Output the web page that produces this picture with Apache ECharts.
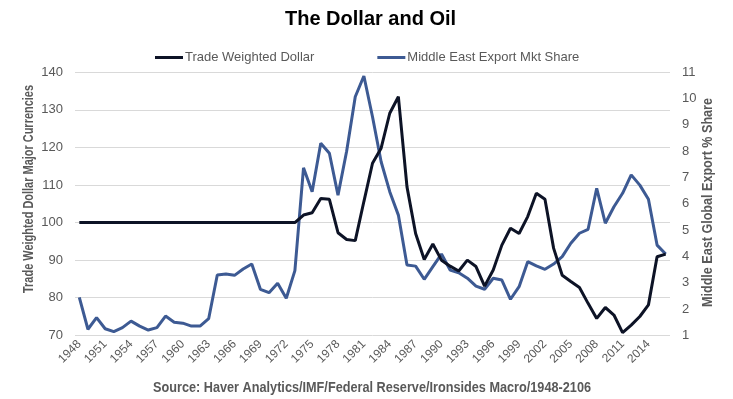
<!DOCTYPE html>
<html>
<head>
<meta charset="utf-8">
<script src="https://cdn.jsdelivr.net/npm/echarts@6/dist/echarts.min.js"></script>
<style>
html,body{margin:0;padding:0;background:#fff;}
#chart{width:733px;height:399px;}
</style>
</head>
<body>
<div id="chart"></div>
<script>
var years = ['1948','1949','1950','1951','1952','1953','1954','1955','1956','1957',
  '1958','1959','1960','1961','1962','1963','1964','1965','1966','1967',
  '1968','1969','1970','1971','1972','1973','1974','1975','1976','1977',
  '1978','1979','1980','1981','1982','1983','1984','1985','1986','1987',
  '1988','1989','1990','1991','1992','1993','1994','1995','1996','1997',
  '1998','1999','2000','2001','2002','2003','2004','2005','2006','2007',
  '2008','2009','2010','2011','2012','2013','2014','2015','2016'];

var tradeWeightedDollar = [100,100,100,100,100,100,100,100,100,100,
  100,100,100,100,100,100,100,100,100,100,
  100,100,100,100,100,100,102.0,102.6,106.4,106.2,
  97.3,95.5,95.2,105.6,115.8,119.8,129.1,133.5,109.5,97.1,
  90.2,94.3,90.0,88.4,87.1,90.0,88.3,83.1,87.4,94.0,
  98.5,97.1,101.6,107.8,106.2,93.2,86.0,84.3,82.7,78.5,
  74.5,77.4,75.4,70.7,72.7,75.0,78.1,90.9,91.6];

var middleEastShare = [2.44,1.23,1.67,1.25,1.14,1.29,1.54,1.35,1.20,1.29,
  1.73,1.50,1.46,1.35,1.35,1.63,3.29,3.33,3.28,3.52,
  3.71,2.75,2.62,2.98,2.41,3.46,7.37,6.46,8.30,7.92,
  6.33,8.00,10.07,10.86,9.31,7.60,6.46,5.57,3.67,3.63,
  3.13,3.61,4.09,3.48,3.38,3.17,2.87,2.75,3.17,3.10,
  2.37,2.85,3.80,3.64,3.51,3.71,3.99,4.50,4.88,5.03,
  6.59,5.26,5.89,6.40,7.10,6.71,6.17,4.43,4.09];

var titleText = 'The Dollar and Oil';
var seriesNames = ['Trade Weighted Dollar', 'Middle East Export Mkt Share'];
var leftAxisName = 'Trade Weighted Dollar Major Currencies';
var rightAxisName = 'Middle East Global Export % Share';
var sourceText = 'Source: Haver Analytics/IMF/Federal Reserve/Ironsides Macro/1948-2106';

var FONT = '"Liberation Sans", Arial, sans-serif';
var GRAY = '#595959';

var mctx = document.createElement('canvas').getContext('2d');
function fitScale(text, font, target) {
  mctx.font = font;
  return target / mctx.measureText(text).width;
}
var boldFont = 'bold 14px ' + FONT;

var chart = echarts.init(document.getElementById('chart'), null, {renderer: 'canvas'});
chart.setOption({
  backgroundColor: '#ffffff',
  animation: false,
  title: {
    text: titleText,
    left: 285, top: 9, padding: 0,
    textStyle: {fontFamily: FONT, fontSize: 20, fontWeight: 'bold', color: '#000000'}
  },
  legend: {
    left: 155, top: 51, padding: 0,
    icon: 'rect', itemWidth: 28, itemHeight: 3, itemGap: 63,
    data: seriesNames,
    textStyle: {fontFamily: FONT, fontSize: 13, color: GRAY, padding: [0,0,0,-3]}
  },
  grid: {left: 75, right: 63, top: 72.3, bottom: 63.7},
  xAxis: {
    type: 'category',
    data: years,
    boundaryGap: true,
    axisLine: {show: false},
    axisTick: {show: false},
    axisLabel: {interval: 2, rotate: 45, margin: 7, color: GRAY, fontFamily: FONT, fontSize: 12}
  },
  yAxis: [
    {
      type: 'value', min: 70, max: 140, interval: 10, position: 'left',
      axisLine: {show: false}, axisTick: {show: false},
      axisLabel: {margin: 12, color: GRAY, fontFamily: FONT, fontSize: 13},
      splitLine: {lineStyle: {color: '#D9D9D9', width: 1}}
    },
    {
      type: 'value', min: 1, max: 11, interval: 1, position: 'right',
      axisLine: {show: false}, axisTick: {show: false},
      axisLabel: {margin: 12, color: GRAY, fontFamily: FONT, fontSize: 13},
      splitLine: {show: false}
    }
  ],
  series: [
    {
      name: seriesNames[0], type: 'line', yAxisIndex: 0,
      data: tradeWeightedDollar, symbol: 'none',
      itemStyle: {color: '#0D1326'},
      lineStyle: {color: '#0D1326', width: 3}, z: 3
    },
    {
      name: seriesNames[1], type: 'line', yAxisIndex: 1,
      data: middleEastShare, symbol: 'none',
      itemStyle: {color: '#3D5A93'},
      lineStyle: {color: '#3D5A93', width: 3}, z: 2
    }
  ],
  graphic: [
    {
      type: 'text', x: 29, y: 189, rotation: Math.PI / 2,
      scaleX: fitScale(leftAxisName, boldFont, 208), scaleY: 1,
      style: {text: leftAxisName, font: boldFont, fill: GRAY, align: 'center', verticalAlign: 'middle'}
    },
    {
      type: 'text', x: 708, y: 202.5, rotation: Math.PI / 2,
      scaleX: fitScale(rightAxisName, boldFont, 209), scaleY: 1,
      style: {text: rightAxisName, font: boldFont, fill: GRAY, align: 'center', verticalAlign: 'middle'}
    },
    {
      type: 'text', x: 372, y: 388,
      scaleX: fitScale(sourceText, 'bold 15px ' + FONT, 438), scaleY: 1,
      style: {text: sourceText, font: 'bold 15px ' + FONT, fill: GRAY, align: 'center', verticalAlign: 'middle'}
    }
  ]
});
</script>
</body>
</html>
